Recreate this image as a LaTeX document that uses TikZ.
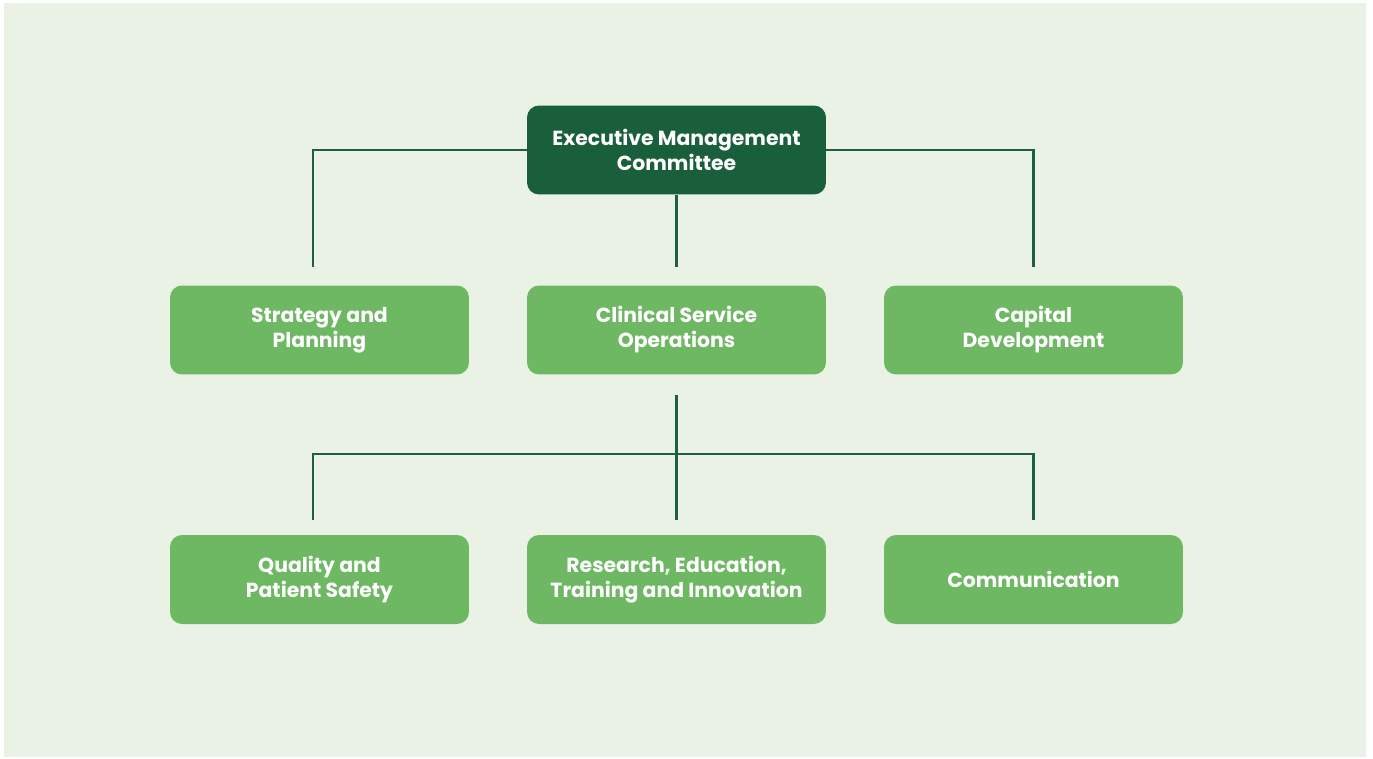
\documentclass[tikz,border=0pt]{standalone}
\usepackage{fontspec}
\setmainfont{Poppins}[BoldFont={Poppins Bold}]
\definecolor{bgpale}{HTML}{EAF2E6}
\definecolor{topgreen}{HTML}{1A5F3B}
\definecolor{boxgreen}{HTML}{6EB864}
\definecolor{linkgreen}{HTML}{1D6040}
\begin{document}
\begin{tikzpicture}[x=0.02cm, y=-0.02cm,
  unit/.style={rounded corners=0.24cm, minimum width=5.98cm, minimum height=1.78cm,
    inner sep=0pt, align=center, text=white,
    font=\fontsize{11.6}{14.2}\selectfont\bfseries},
  topunit/.style={unit, fill=topgreen},
  subunit/.style={unit, fill=boxgreen},
  link/.style={draw=linkgreen, line width=1.5pt}]
 \useasboundingbox (0,0) rectangle (1373,758);
 \fill[bgpale] (4,3) rectangle (1366,757);

 \node[topunit] at (676.5, 150) (emc) {Executive Management\\Committee};

 \node[subunit] at (319.5, 330)  (sp)  {Strategy and\\Planning};
 \node[subunit] at (676.5, 330)  (cso) {Clinical Service\\Operations};
 \node[subunit] at (1033.5, 330) (cd)  {Capital\\Development};

 \node[subunit] at (319.5, 579.5)  (qps) {Quality and\\Patient Safety};
 \node[subunit] at (676.5, 579.5)  (reti) {Research, Education,\\Training and Innovation};
 \node[subunit] at (1033.5, 579.5) (com) {Communication};

 \coordinate (hub) at (676.5, 454);

 \draw [link, shorten >=0.36cm] (emc.west) -| ([xshift=-0.13cm]sp.north);
 \draw [link, shorten >=0.36cm] (emc.south) -- (cso.north);
 \draw [link, shorten >=0.36cm] (emc.east) -| (cd.north);

 \draw [link, shorten <=0.4cm] (cso.south) -- (hub);
 \draw [link, shorten >=0.3cm] (hub) -| ([xshift=-0.13cm]qps.north);
 \draw [link, shorten >=0.3cm] (hub) -- (reti.north);
 \draw [link, shorten >=0.3cm] (hub) -| (com.north);
\end{tikzpicture}
\end{document}
